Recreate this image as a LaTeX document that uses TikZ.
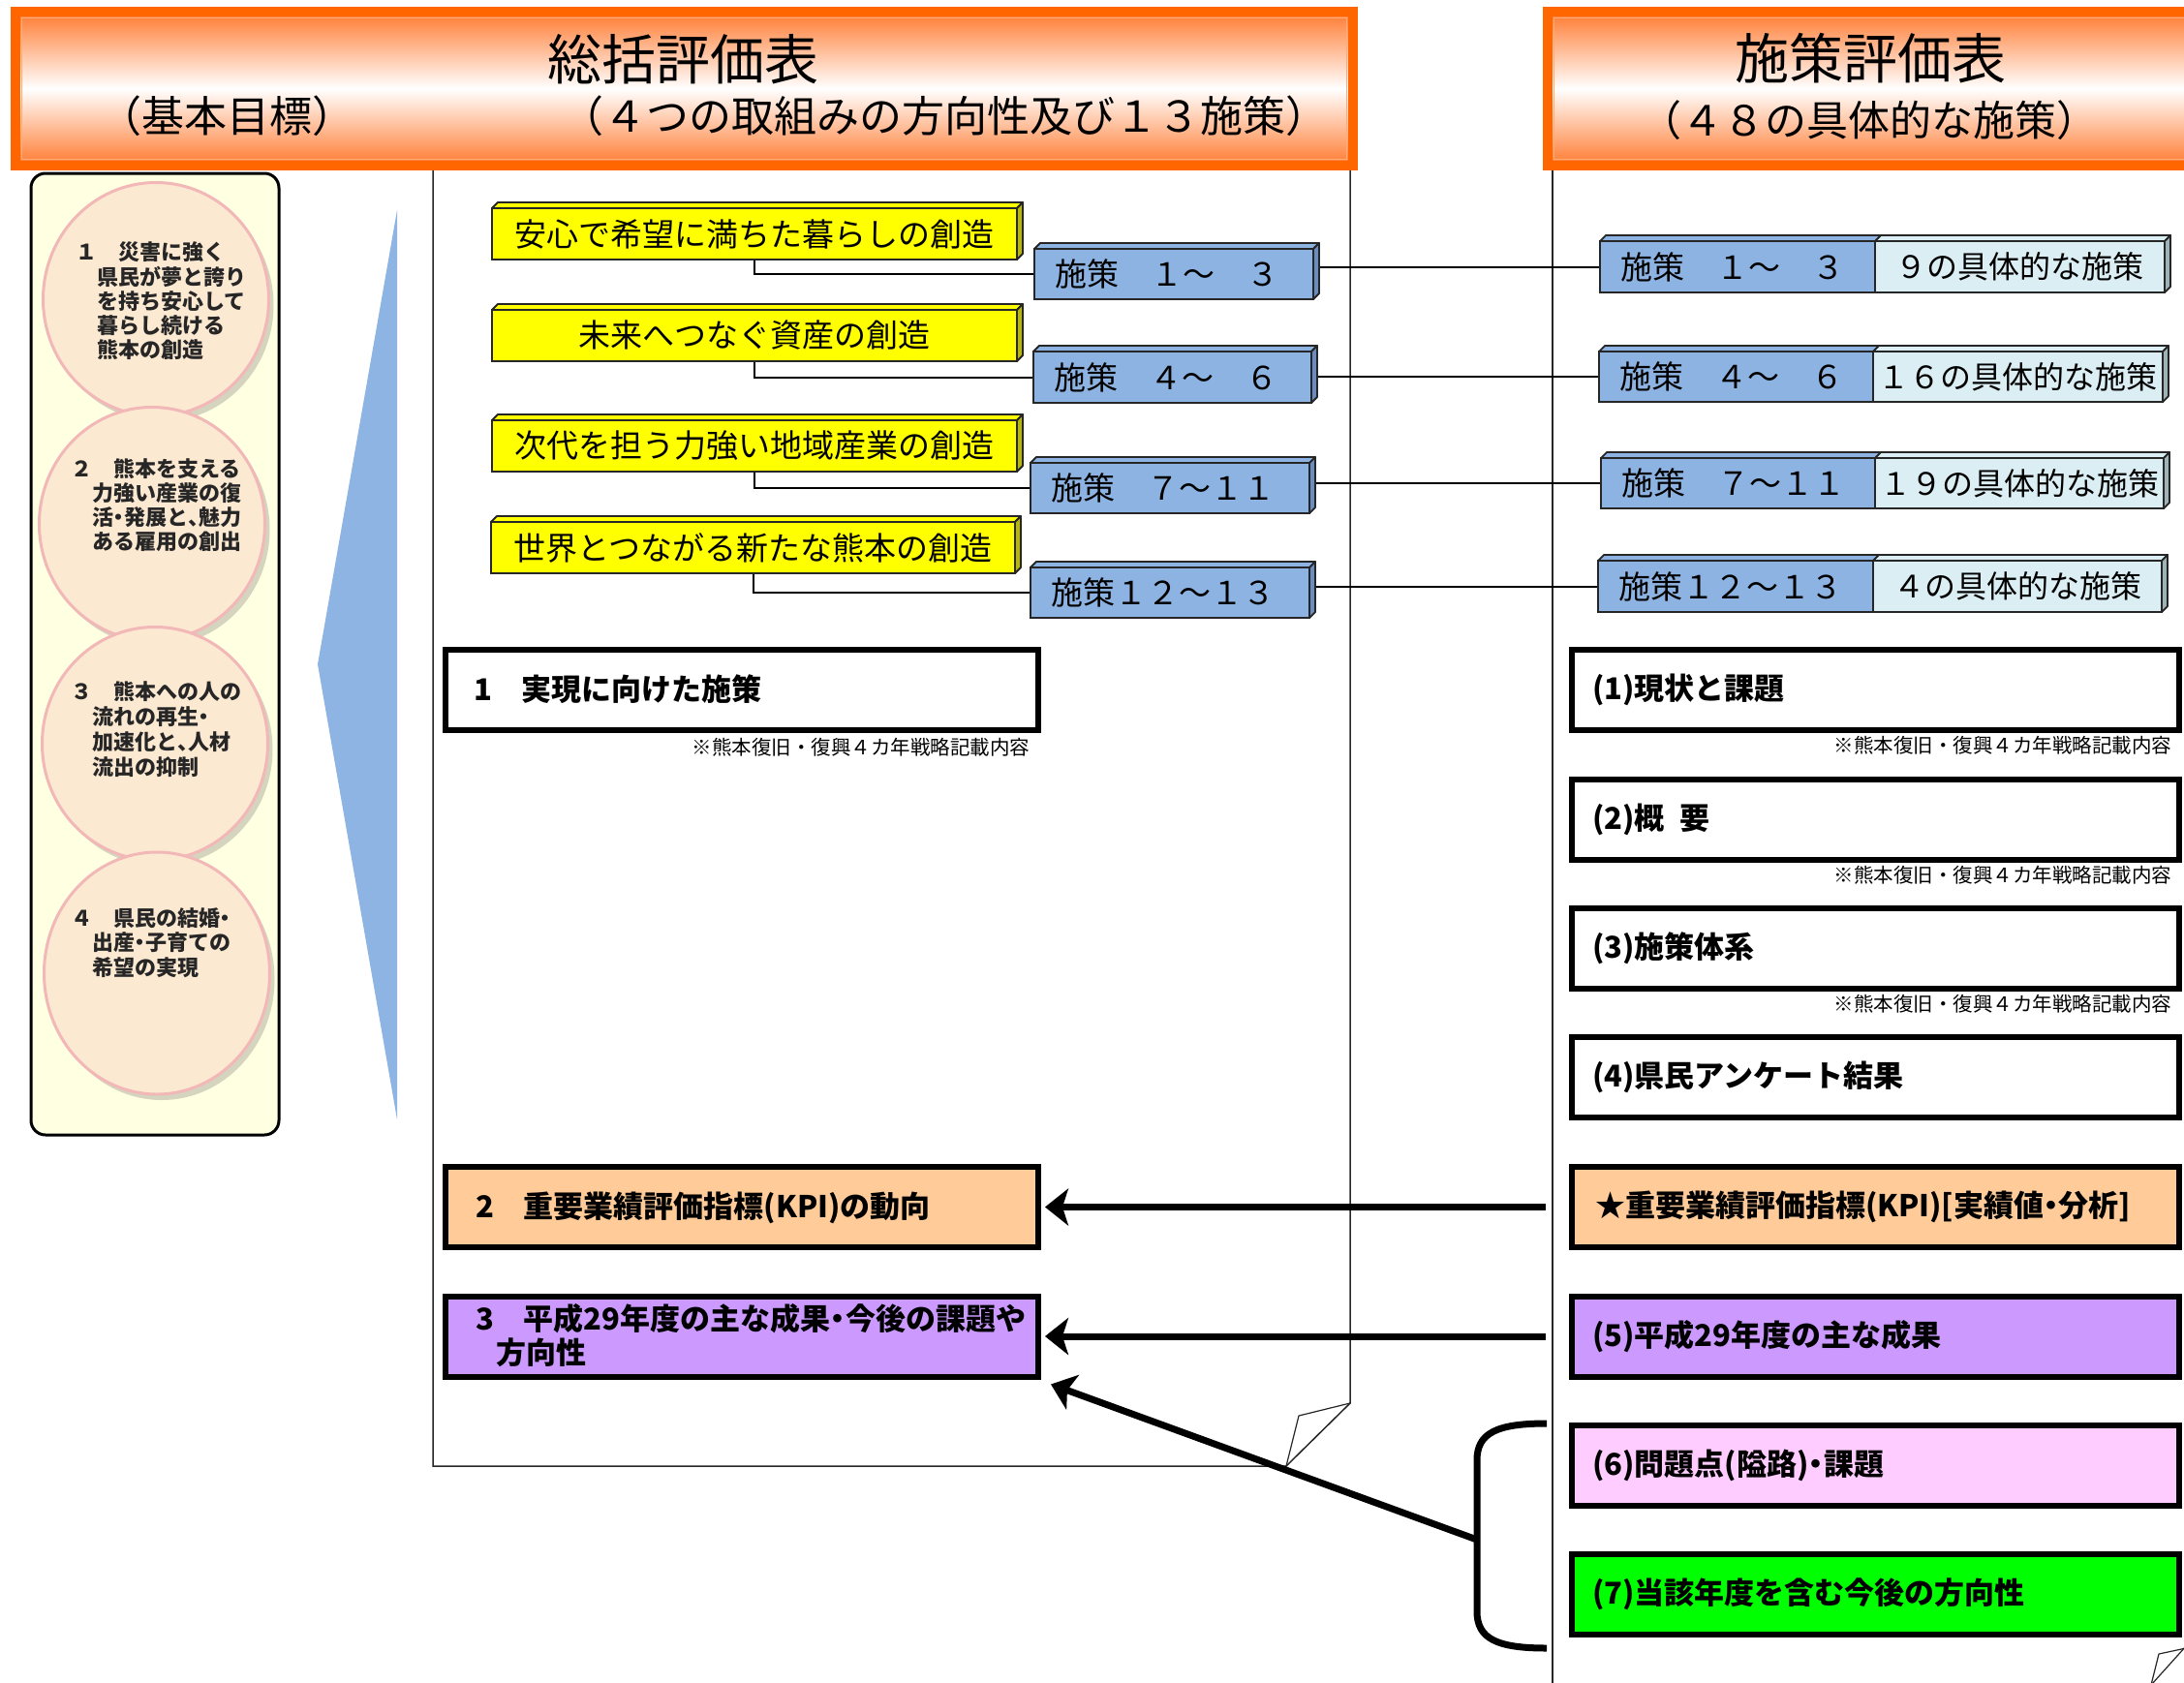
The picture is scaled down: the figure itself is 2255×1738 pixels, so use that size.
\documentclass[tikz,border=0pt]{standalone}
\usepackage{fontspec}
\setmainfont{Noto Sans CJK JP}
\usetikzlibrary{shapes.geometric,arrows.meta,calc,shadows}
\definecolor{bannerO}{HTML}{FF6600}
\definecolor{bannerL}{HTML}{FF7A30}
\definecolor{panelY}{HTML}{FFFFE1}
\definecolor{ovalF}{HTML}{FCE9D2}
\definecolor{ovalB}{HTML}{F2B8B8}
\definecolor{triB}{HTML}{8EB4E3}
\definecolor{yel}{HTML}{FFFF00}
\definecolor{yelS}{HTML}{B8B800}
\definecolor{bl}{HTML}{8DB3E2}
\definecolor{blS}{HTML}{6A8CC0}
\definecolor{lc}{HTML}{DBEEF4}
\definecolor{lcS}{HTML}{9DB3B8}
\definecolor{peach}{HTML}{FFCC99}
\definecolor{lav}{HTML}{CC99FF}
\definecolor{pinkB}{HTML}{FFCCFF}
\definecolor{grn}{HTML}{00FF00}
\pgfdeclarelayer{bg}
\pgfsetlayers{bg,main}
\newcommand\nd{\makebox[0.5em]{・}}
\newcommand\nc{\makebox[0.5em][l]{、}}
\newcommand{\cub}[8]{%
  \node[cubef, fill=#6, minimum width=#4pt, minimum height=#5pt, anchor=north west] (#1) at (#2,#3) {};
  \filldraw[fill=#7, cubeline] (#1.north west) -- ++(6,-6) -- ([shift={(6,-6)}]#1.north east) -- (#1.north east) -- cycle;
  \filldraw[fill=#8, cubeline] (#1.north east) -- ++(6,-6) -- ([shift={(6,-6)}]#1.south east) -- (#1.south east) -- cycle;
}
\newcommand{\cubtwo}[6]{%
  \node[cubef, fill=bl, minimum width=#4pt, minimum height=#6pt, anchor=north west] (#1) at (#2,#3) {};
  \node[cubef, fill=lc, minimum width=#5pt, minimum height=#6pt, anchor=north west] (#1l) at (#1.north east) {};
  \filldraw[fill=bl, cubeline] (#1.north west) -- ++(6,-6) -- ([shift={(6,-6)}]#1.north east) -- (#1.north east) -- cycle;
  \filldraw[fill=lc, cubeline] (#1l.north west) -- ++(6,-6) -- ([shift={(6,-6)}]#1l.north east) -- (#1l.north east) -- cycle;
  \filldraw[fill=lcS, cubeline] (#1l.north east) -- ++(6,-6) -- ([shift={(6,-6)}]#1l.south east) -- (#1l.south east) -- cycle;
}
\begin{document}
\begin{tikzpicture}[x=1pt,y=-1pt,
  every node/.style={inner sep=0pt, outer sep=0pt},
  pageline/.style={draw=black!85, line width=1.5pt},
  cubef/.style={draw=black!85, line width=1.8pt},
  cubeline/.style={draw=black!85, line width=1.8pt, line join=round},
  conn/.style={draw=black, line width=2pt},
  oval/.style={ellipse, draw=ovalB, line width=3pt, fill=ovalF, minimum width=233pt, minimum height=241pt,
    drop shadow={shadow xshift=5pt, shadow yshift=-6pt, fill=black!55, opacity=0.3}},
  ot/.style={anchor=west, font=\fontsize{22}{25}\selectfont\bfseries, text=black!85},
  ttl/.style={font=\fontsize{56}{60}\selectfont},
  sub/.style={font=\fontsize{44}{48}\selectfont},
  subr/.style={font=\fontsize{43}{47}\selectfont},
  yt/.style={font=\fontsize{33}{36}\selectfont},
  lt/.style={font=\fontsize{32}{36}\selectfont},
  bt/.style={anchor=west, font=\fontsize{33}{36}\selectfont},
  lbl/.style={anchor=west, font=\fontsize{31}{35}\selectfont\bfseries},
  note/.style={anchor=east, font=\fontsize{20.5}{22}\selectfont},
  rbox/.style={draw=black, line width=6pt, minimum width=627pt, minimum height=83pt},
  lbox/.style={draw=black, line width=6pt, minimum width=612pt, minimum height=83pt},
  bigarrow/.style={draw=black, line width=7pt, -{Stealth[length=24pt,width=38pt,inset=6pt]}}
]
\useasboundingbox (0,0) rectangle (2255,1738);

% ---------- banners ----------
\shade[top color=bannerL, bottom color=bannerL, middle color=white] (16,12) rectangle (1397,171);
\draw[bannerO, line width=10pt] (16,12) rectangle (1397,171);
\draw[bannerO!55!white, line width=1.5pt] (22.5,18.5) rectangle (1390.5,164.5);
\shade[top color=bannerL, bottom color=bannerL, middle color=white] (1598,12) rectangle (2275,171);
\draw[bannerO, line width=10pt] (1598,12) rectangle (2275,171);
\draw[bannerO!55!white, line width=1.5pt] (1604.5,18.5) rectangle (2268,164.5);

\node[ttl] (t1) at (705,61) {総括評価表};
\node[sub] (t1a) at (234,120) {（基本目標）};
\node[sub] (t1b) at (975,120) {（４つの取組みの方向性及び１３施策）};
\node[ttl] (t2) at (1931,60) {施策評価表};
\node[subr] (t2a) at (1930,124) {（４８の具体的な施策）};

% ---------- left panel ----------
\draw[black, line width=3pt, fill=panelY, rounded corners=15pt] (32,179) rectangle (288,1172);
\node[oval] (g1) at (161,309) {};
\node[oval] (g2) at (157,541) {};
\node[oval] (g3) at (160,768) {};
\node[oval, minimum height=250pt] (g4) at (162,1005) {};

\node[ot] (g1a) at (78,260) {１　災害に強く};
\node[ot] (g1b) at (100,286) {県民が夢と誇り};
\node[ot] (g1c) at (100,311) {を持ち安心して};
\node[ot] (g1d) at (100,336) {暮らし続ける};
\node[ot] (g1e) at (100,361) {熊本の創造};

\node[ot] (g2a) at (73,484) {２　熊本を支える};
\node[ot] (g2b) at (95,509) {力強い産業の復};
\node[ot] (g2c) at (95,534) {活\nd 発展と\nc 魅力};
\node[ot] (g2d) at (95,559) {ある雇用の創出};

\node[ot] (g3a) at (73,714) {３　熊本への人の};
\node[ot] (g3b) at (95,740) {流れの再生\nd};
\node[ot] (g3c) at (95,766) {加速化と\nc 人材};
\node[ot] (g3d) at (95,792) {流出の抑制};

\node[ot] (g4a) at (73,948) {４　県民の結婚\nd};
\node[ot] (g4b) at (95,973) {出産\nd 子育ての};
\node[ot] (g4c) at (95,999) {希望の実現};

% blue triangle
\fill[triB] (410,217) -- (410,1156) -- (328,686) -- cycle;

% ---------- page frames ----------
\begin{pgfonlayer}{bg}
\draw[pageline] (447,176) -- (447,1514) -- (1328,1514) -- (1394,1449) -- (1394,176);
\draw[pageline, line width=1.2pt, line join=round] (1394,1449) -- (1341,1462) -- (1328,1514);
\draw[pageline] (1603,176) -- (1603,1745);
\draw[pageline, line width=1.2pt] (2221,1740) -- (2257,1700);
\draw[pageline, line width=1.2pt, line join=round] (2257,1702) -- (2229,1708) -- (2221,1740);
\end{pgfonlayer}

% ---------- yellow goals ----------
\cub{y1}{508}{215}{542}{53}{yel}{yel}{yelS}
\cub{y2}{508}{320}{542}{53}{yel}{yel}{yelS}
\cub{y3}{508}{434}{542}{53}{yel}{yel}{yelS}
\cub{y4}{507}{539}{541}{53}{yel}{yel}{yelS}
\node[yt] (y1t) at (y1.center) {安心で希望に満ちた暮らしの創造};
\node[yt] (y2t) at (y2.center) {未来へつなぐ資産の創造};
\node[yt] (y3t) at (y3.center) {次代を担う力強い地域産業の創造};
\node[yt] (y4t) at (y4.center) {世界とつながる新たな熊本の創造};

% ---------- blue measures (left) ----------
\cub{b1}{1068}{257}{288}{52}{bl}{bl}{blS}
\cub{b2}{1067}{363}{287}{53}{bl}{bl}{blS}
\cub{b3}{1064}{478}{288}{52}{bl}{bl}{blS}
\cub{b4}{1064}{586}{288}{52}{bl}{bl}{blS}
\node[bt] (b1t) at ([xshift=21pt]b1.west) {施策　１～　３};
\node[bt] (b2t) at ([xshift=21pt]b2.west) {施策　４～　６};
\node[bt] (b3t) at ([xshift=21pt]b3.west) {施策　７～１１};
\node[bt] (b4t) at ([xshift=21pt]b4.west) {施策１２～１３};

% ---------- blue measures (right) ----------
\cubtwo{r1}{1652}{249}{284}{299}{53}
\cubtwo{r2}{1651}{363}{283}{299}{52}
\cubtwo{r3}{1653}{473}{283}{298}{52}
\cubtwo{r4}{1650}{579}{284}{298}{53}
\node[bt] (r1t) at ([xshift=21pt]r1.west) {施策　１～　３};
\node[bt] (r2t) at ([xshift=21pt]r2.west) {施策　４～　６};
\node[bt] (r3t) at ([xshift=21pt]r3.west) {施策　７～１１};
\node[bt] (r4t) at ([xshift=21pt]r4.west) {施策１２～１３};
\node[lt] (r1u) at (r1l.center) {９の具体的な施策};
\node[lt] (r2u) at (r2l.center) {１６の具体的な施策};
\node[lt] (r3u) at (r3l.center) {１９の具体的な施策};
\node[lt] (r4u) at (r4l.center) {４の具体的な施策};

% connectors
\begin{pgfonlayer}{bg}
\draw[conn] (y1.south) |- (b1.west);
\draw[conn] (y2.south) |- (b2.west);
\draw[conn] (y3.south) |- (b3.west);
\draw[conn] (y4.south) |- (b4.west);
\draw[conn] (r1.west) -- (r1.west -| b1.east);
\draw[conn] (r2.west) -- (r2.west -| b2.east);
\draw[conn] (r3.west) -- (r3.west -| b3.east);
\draw[conn] (r4.west) -- (r4.west -| b4.east);
\end{pgfonlayer}

% ---------- left page boxes ----------
\node[lbox, fill=white] (m1) at (766,712) {};
\node[lbox, fill=peach] (m2) at (766,1246.5) {};
\node[lbox, fill=lav] (m3) at (766,1380) {};
\node[lbl] (m1t) at (489,712) {1　実現に向けた施策};
\node[lbl] (m2t) at (491,1247) {2　重要業績評価指標(KPI)の動向};
\node[lbl] (m3t) at (491,1362) {3　平成29年度の主な成果\nd 今後の課題や};
\node[lbl] (m3u) at (512,1397) {方向性};
\node[note] (m1n) at (1063,772) {※熊本復旧・復興４カ年戦略記載内容};

% ---------- right page boxes ----------
\node[rbox, fill=white] (s1) at (1936.5,712.5) {};
\node[rbox, fill=white] (s2) at (1936.5,846) {};
\node[rbox, fill=white] (s3) at (1936.5,979.3) {};
\node[rbox, fill=white] (s4) at (1936.5,1112.7) {};
\node[rbox, fill=peach] (sk) at (1936.5,1246.5) {};
\node[rbox, fill=lav] (s5) at (1936.5,1380) {};
\node[rbox, fill=pinkB] (s6) at (1936.5,1513.5) {};
\node[rbox, fill=grn] (s7) at (1936.5,1646.5) {};
\node[lbl] (s1t) at ([xshift=21pt]s1.west) {(1)現状と課題};
\node[lbl] (s2t) at ([xshift=21pt]s2.west) {(2)概\makebox[16pt][l]{　}要};
\node[lbl] (s3t) at ([xshift=21pt]s3.west) {(3)施策体系};
\node[lbl] (s4t) at ([xshift=21pt]s4.west) {(4)県民アンケート結果};
\node[lbl] (skt) at ([xshift=24pt]sk.west) {★重要業績評価指標(KPI)[実績値\nd 分析]};
\node[lbl] (s5t) at ([xshift=21pt]s5.west) {(5)平成29年度の主な成果};
\node[lbl] (s6t) at ([xshift=21pt]s6.west) {(6)問題点(隘路)\nd 課題};
\node[lbl] (s7t) at ([xshift=21pt]s7.west) {(7)当該年度を含む今後の方向性};
\node[note] (s1n) at (2242,770) {※熊本復旧・復興４カ年戦略記載内容};
\node[note] (s2n) at (2242,903.5) {※熊本復旧・復興４カ年戦略記載内容};
\node[note] (s3n) at (2242,1037) {※熊本復旧・復興４カ年戦略記載内容};

% ---------- arrows ----------
\coordinate (a1s) at ([xshift=-27pt]sk.west);
\coordinate (a2s) at ([xshift=-27pt]s5.west);
\draw[bigarrow, shorten >=7pt] (a1s) -- (m2.east);
\draw[bigarrow, shorten >=7pt] (a2s) -- (m3.east);
\coordinate (br1) at (1597,1470);
\coordinate (br2) at (1597,1702);
\coordinate (a3s) at (1525,1590);
\coordinate (a3e) at ([shift={(13,8)}]m3.south east);
\draw[black, line width=7pt] (br1) .. controls (1545,1470) and (1525,1480) .. (1525,1508)
  -- (1525,1664) .. controls (1525,1692) and (1545,1702) .. (br2);
\draw[bigarrow] (a3s) -- (a3e);
\end{tikzpicture}
\end{document}
